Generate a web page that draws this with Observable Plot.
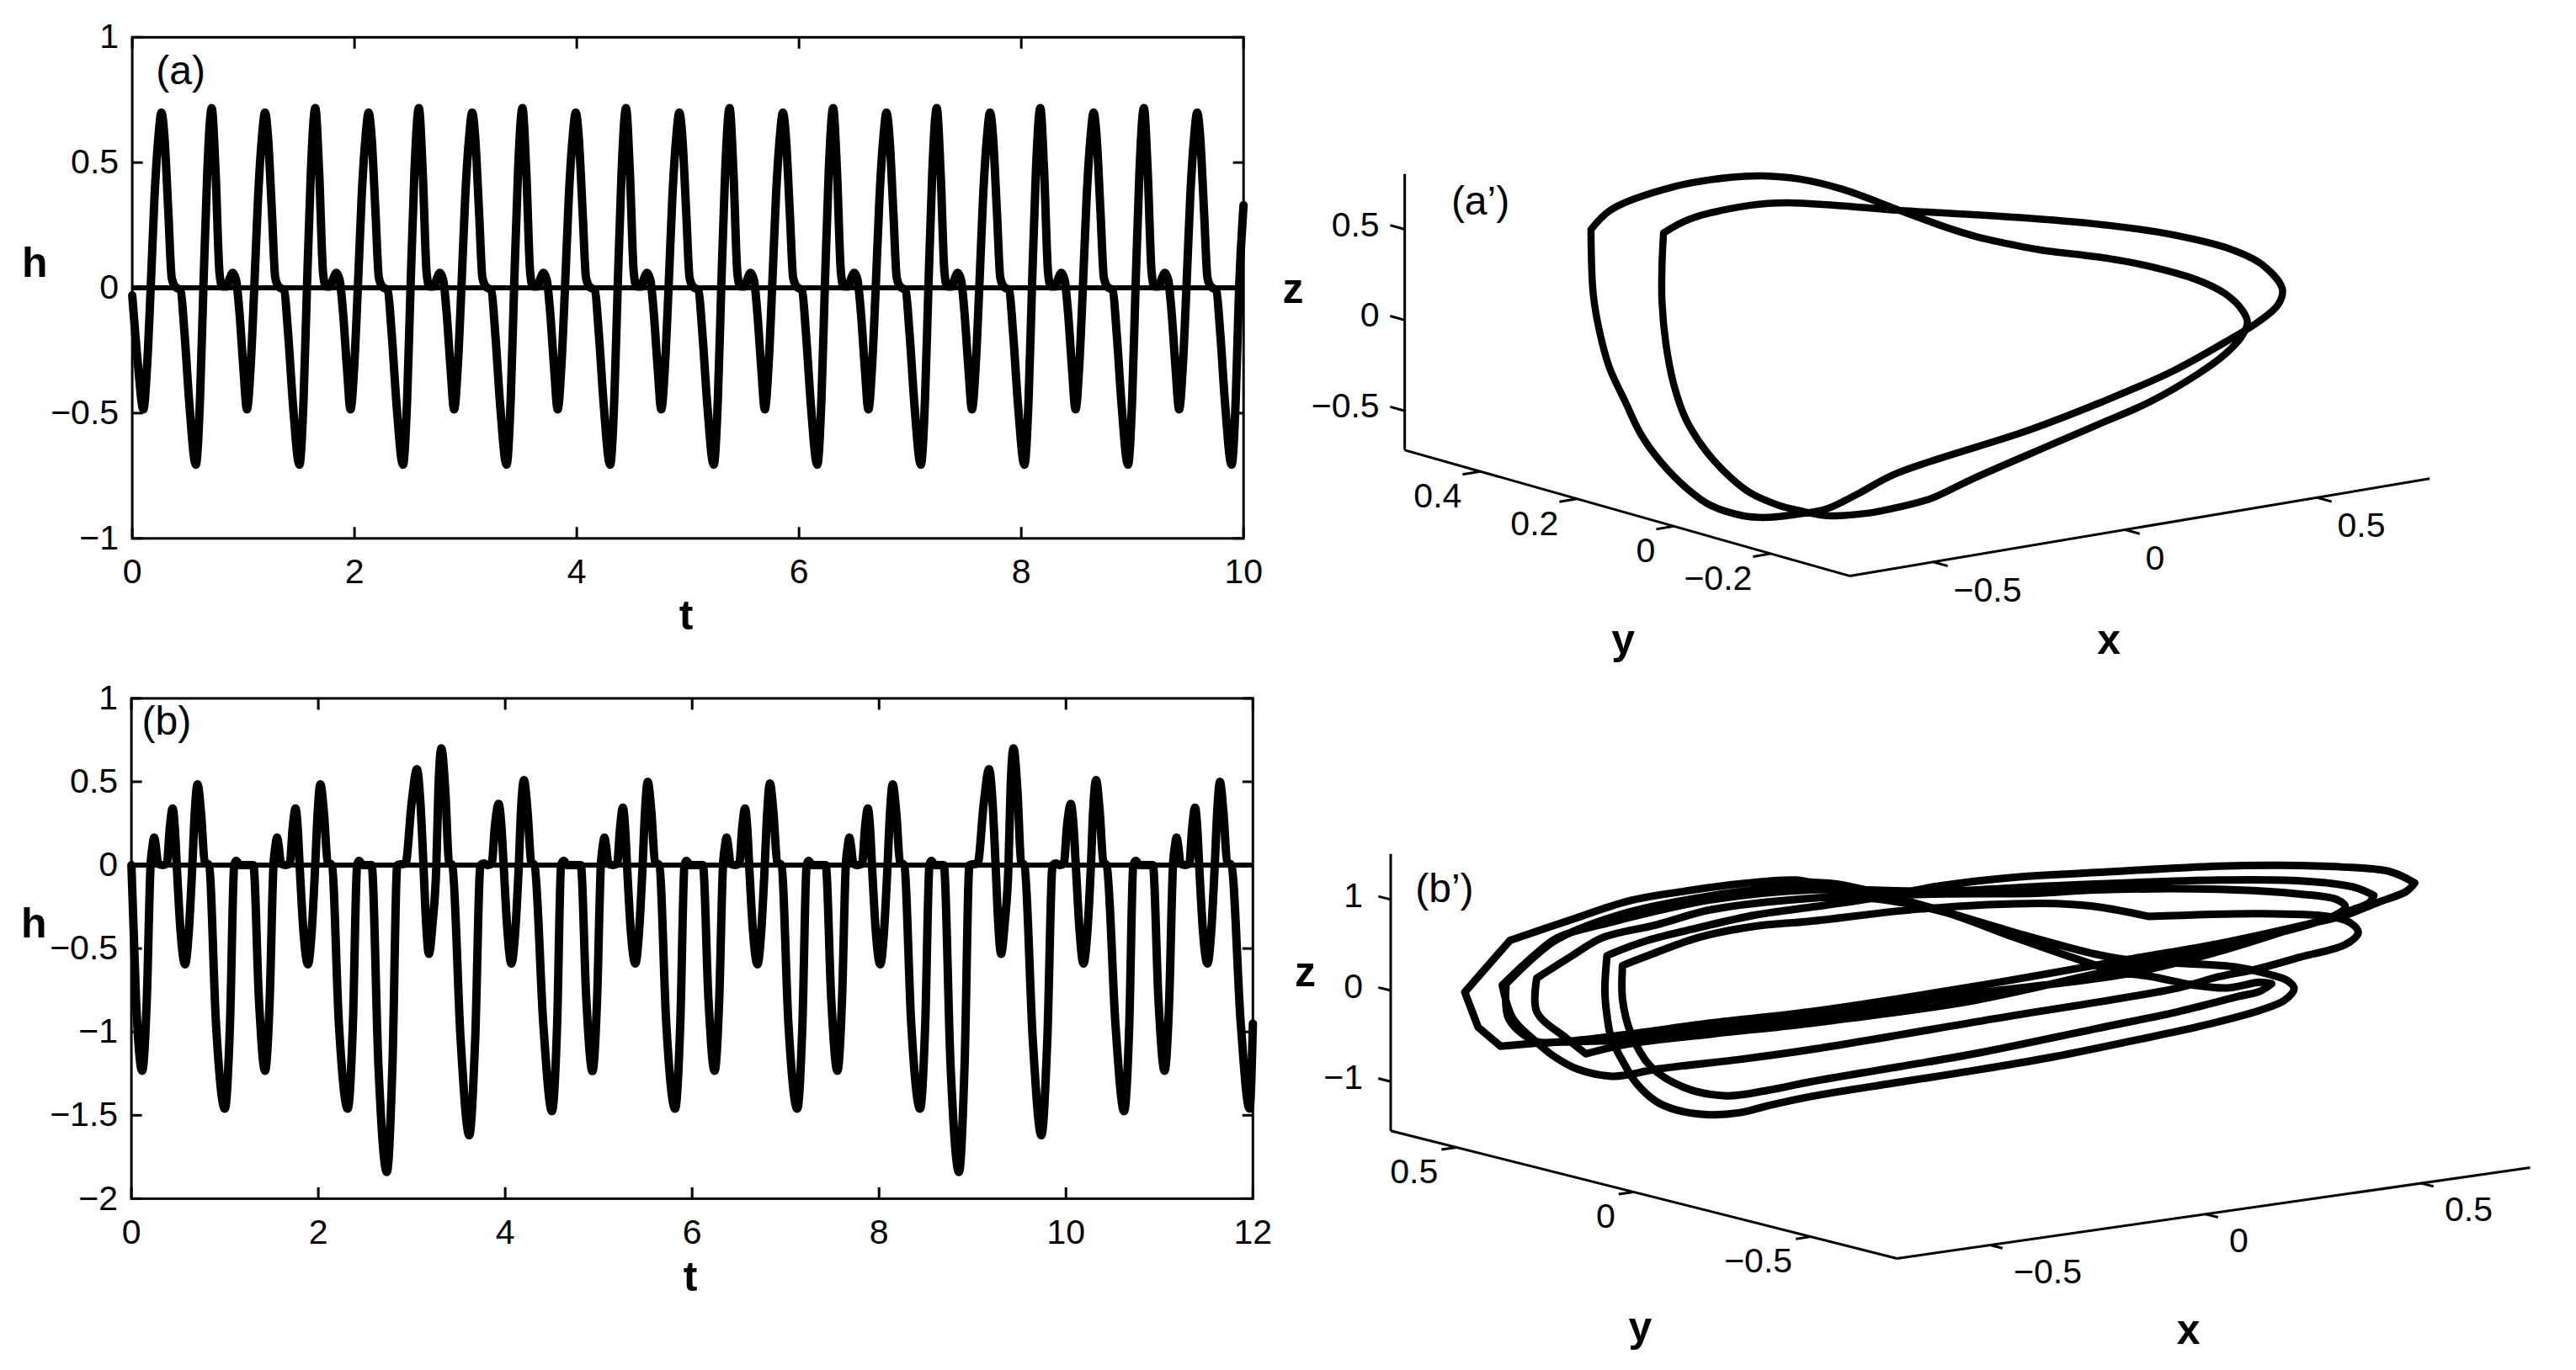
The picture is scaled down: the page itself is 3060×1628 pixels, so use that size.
<!DOCTYPE html>
<html>
<head>
<meta charset="utf-8">
<script src="https://cdn.jsdelivr.net/npm/d3@7"></script>
<script src="https://cdn.jsdelivr.net/npm/@observablehq/plot@0.6"></script>
<style>
  html, body { margin: 0; padding: 0; background: #fff; }
  #page { position: relative; width: 3060px; height: 1628px; overflow: hidden; background: #fff; }
  #page > svg { position: absolute; background: transparent; }
</style>
</head>
<body>
<div id="page"></div>
<script>
// ---------- panel (a): h(t) ----------
const tA = [
0,.05,
.10,.135,.166,.20,.235,.263,.29,.325,.355,.385,.435,.47,.515,.572,.61,.64,.675,.715,.75,.785,.81,.85,.875,.905,.935,.965,1.00,
1.032,1.067,1.098,1.132,1.167,1.195,1.222,1.257,1.287,1.317,1.367,1.402,1.447,1.504,1.542,1.572,1.607,1.647,1.682,1.717,1.742,1.782,1.807,1.837,1.867,1.897,1.932,
1.964,1.999,2.03,2.064,2.099,2.127,2.154,2.189,2.219,2.249,2.299,2.334,2.379,2.436,2.474,2.504,2.539,2.579,2.614,2.649,2.674,2.714,2.739,2.769,2.799,2.829,2.864,
2.896,2.931,2.962,2.996,3.031,3.059,3.086,3.121,3.151,3.181,3.231,3.266,3.311,3.368,3.406,3.436,3.471,3.511,3.546,3.581,3.606,3.646,3.671,3.701,3.731,3.761,3.796,
3.828,3.863,3.894,3.928,3.963,3.991,4.018,4.053,4.083,4.113,4.163,4.198,4.243,4.30,4.338,4.368,4.403,4.443,4.478,4.513,4.538,4.578,4.603,4.633,4.663,4.693,4.728,
4.76,4.795,4.826,4.86,4.895,4.923,4.95,4.985,5.015,5.045,5.095,5.13,5.175,5.232,5.27,5.30,5.335,5.375,5.41,5.445,5.47,5.51,5.535,5.565,5.595,5.625,5.66,
5.692,5.727,5.758,5.792,5.827,5.855,5.882,5.917,5.947,5.977,6.027,6.062,6.107,6.164,6.202,6.232,6.267,6.307,6.342,6.377,6.402,6.442,6.467,6.497,6.527,6.557,6.592,
6.624,6.659,6.69,6.724,6.759,6.787,6.814,6.849,6.879,6.909,6.959,6.994,7.039,7.096,7.134,7.164,7.199,7.239,7.274,7.309,7.334,7.374,7.399,7.429,7.459,7.489,7.524,
7.556,7.591,7.622,7.656,7.691,7.719,7.746,7.781,7.811,7.841,7.891,7.926,7.971,8.028,8.066,8.096,8.131,8.171,8.206,8.241,8.266,8.306,8.331,8.361,8.391,8.421,8.456,
8.488,8.523,8.554,8.588,8.623,8.651,8.678,8.713,8.743,8.773,8.823,8.858,8.903,8.96,8.998,9.028,9.063,9.103,9.138,9.173,9.198,9.238,9.263,9.293,9.323,9.353,9.388,
9.42,9.455,9.486,9.52,9.555,9.583,9.61,9.645,9.675,9.705,9.755,9.79,9.835,9.892,9.93,9.96,10
];
const hA = [
-.03,-.30,
-.485,-.30,0,.36,.60,.70,.60,.30,.04,.005,-.01,-.18,-.47,-.706,-.44,0,.46,.717,.46,.06,.005,.005,.035,.06,.03,-.10,-.32,
-.485,-.30,0,.36,.60,.70,.60,.30,.04,.005,-.01,-.18,-.47,-.706,-.44,0,.46,.717,.46,.06,.005,.005,.035,.06,.03,-.10,-.32,
-.485,-.30,0,.36,.60,.70,.60,.30,.04,.005,-.01,-.18,-.47,-.706,-.44,0,.46,.717,.46,.06,.005,.005,.035,.06,.03,-.10,-.32,
-.485,-.30,0,.36,.60,.70,.60,.30,.04,.005,-.01,-.18,-.47,-.706,-.44,0,.46,.717,.46,.06,.005,.005,.035,.06,.03,-.10,-.32,
-.485,-.30,0,.36,.60,.70,.60,.30,.04,.005,-.01,-.18,-.47,-.706,-.44,0,.46,.717,.46,.06,.005,.005,.035,.06,.03,-.10,-.32,
-.485,-.30,0,.36,.60,.70,.60,.30,.04,.005,-.01,-.18,-.47,-.706,-.44,0,.46,.717,.46,.06,.005,.005,.035,.06,.03,-.10,-.32,
-.485,-.30,0,.36,.60,.70,.60,.30,.04,.005,-.01,-.18,-.47,-.706,-.44,0,.46,.717,.46,.06,.005,.005,.035,.06,.03,-.10,-.32,
-.485,-.30,0,.36,.60,.70,.60,.30,.04,.005,-.01,-.18,-.47,-.706,-.44,0,.46,.717,.46,.06,.005,.005,.035,.06,.03,-.10,-.32,
-.485,-.30,0,.36,.60,.70,.60,.30,.04,.005,-.01,-.18,-.47,-.706,-.44,0,.46,.717,.46,.06,.005,.005,.035,.06,.03,-.10,-.32,
-.485,-.30,0,.36,.60,.70,.60,.30,.04,.005,-.01,-.18,-.47,-.706,-.44,0,.46,.717,.46,.06,.005,.005,.035,.06,.03,-.10,-.32,
-.485,-.30,0,.36,.60,.70,.60,.30,.04,.005,-.01,-.18,-.47,-.706,-.44,0,.33
];

// ---------- panel (b): h(t) ----------
const tB = [
0,.049,.115,.165,.205,.225,.243,.262,.285,.335,.38,.41,.441,.465,.485,.525,.574,.615,.652,.678,.707,.745,.785,.83,.905,1.0,1.055,1.10,1.12,1.16,
1.305,1.364,1.43,1.48,1.52,1.54,1.558,1.577,1.60,1.65,1.695,1.725,1.756,1.78,1.80,1.84,1.889,1.93,1.967,1.993,2.022,2.06,2.10,2.145,2.22,2.315,2.37,2.415,2.435,2.475,
2.57,2.643,2.733,2.793,2.845,2.933,2.998,3.055,3.093,3.125,3.153,3.183,3.223,3.263,3.285,3.316,3.358,3.398,3.433,3.523,3.615,3.678,3.735,3.773,3.813,3.855,3.89,3.93,3.958,3.983,4.023,4.065,4.108,4.145,4.169,4.2,4.238,4.278,4.313,4.408,4.5,4.555,4.598,4.626,4.663,
4.808,4.867,4.933,4.983,5.023,5.043,5.061,5.08,5.103,5.153,5.198,5.228,5.259,5.283,5.303,5.343,5.392,5.433,5.47,5.496,5.525,5.563,5.603,5.648,5.723,5.818,5.873,5.918,5.938,5.978,
6.115,6.174,6.24,6.29,6.33,6.35,6.368,6.387,6.41,6.46,6.505,6.535,6.566,6.59,6.61,6.65,6.699,6.74,6.777,6.803,6.832,6.87,6.91,6.955,7.03,7.125,7.18,7.225,7.245,7.285,
7.429,7.488,7.554,7.604,7.644,7.664,7.682,7.701,7.724,7.774,7.819,7.849,7.88,7.904,7.924,7.964,8.013,8.054,8.091,8.117,8.146,8.184,8.224,8.269,8.344,8.439,8.494,8.539,8.559,8.599,
8.692,8.765,8.855,8.915,8.967,9.055,9.12,9.177,9.215,9.247,9.275,9.305,9.345,9.385,9.407,9.438,9.48,9.52,9.555,9.645,9.737,9.80,9.857,9.895,9.935,9.977,10.012,10.052,10.08,10.105,10.145,10.187,10.23,10.267,10.291,10.322,10.36,10.40,10.435,10.53,10.622,10.677,10.72,10.748,10.785,
10.93,10.989,11.055,11.105,11.145,11.165,11.183,11.202,11.225,11.275,11.32,11.35,11.381,11.405,11.425,11.465,11.514,11.555,11.592,11.618,11.647,11.685,11.725,11.77,11.87,11.965,12
];
const hB = [
0,-.80,-1.233,-.80,0,.11,.166,.11,.01,0,.01,.22,.34,.22,0,-.39,-.595,-.39,0,.315,.485,.315,.02,0,-.95,-1.46,-.95,0,.025,0,
0,-.80,-1.233,-.80,0,.11,.166,.11,.01,0,.01,.22,.34,.22,0,-.39,-.595,-.39,0,.315,.485,.315,.02,0,-.95,-1.46,-.95,0,.025,0,
0,-1.2,-1.84,-1.2,0,.01,.37,.575,.37,0,-.345,-.532,-.345,0,.455,.7,.455,.02,0,-1.05,-1.62,-1.05,0,.01,0,.01,.24,.367,.24,0,-.39,-.59,-.39,0,.33,.51,.33,.02,0,-.96,-1.475,-.96,0,.025,0,
0,-.80,-1.235,-.80,0,.11,.166,.11,.01,0,.01,.22,.345,.22,0,-.39,-.59,-.39,0,.325,.5,.325,.02,0,-.95,-1.46,-.95,0,.025,0,
0,-.80,-1.233,-.80,0,.11,.166,.11,.01,0,.01,.22,.34,.22,0,-.39,-.595,-.39,0,.315,.49,.315,.02,0,-.95,-1.46,-.95,0,.025,0,
0,-.80,-1.233,-.80,0,.11,.166,.11,.01,0,.01,.22,.34,.22,0,-.39,-.595,-.39,0,.315,.485,.315,.02,0,-.95,-1.46,-.95,0,.025,0,
0,-1.2,-1.84,-1.2,0,.01,.37,.575,.37,0,-.345,-.532,-.345,0,.455,.7,.455,.02,0,-1.05,-1.62,-1.05,0,.01,0,.01,.24,.367,.24,0,-.39,-.59,-.39,0,.33,.51,.33,.02,0,-.96,-1.475,-.96,0,.025,0,
0,-.80,-1.233,-.80,0,.11,.166,.11,.01,0,.01,.22,.345,.22,0,-.39,-.59,-.39,0,.315,.5,.315,.02,0,-.95,-1.46,-.95
];

const tTicksA = [0,2,4,6,8,10];
const hTicksA = [-1,-.5,0,.5,1];
const tTicksB = [0,2,4,6,8,10,12];
const hTicksB = [-2,-1.5,-1,-.5,0,.5,1];

// ---------- panel (a'): loop as seen in the plot's projection plane
// (across: x-axis units; up: z-axis units) ; a repeated vertex is a corner of the curve ----------
const uA3 = [-.934,-.881,-.718,-.571,-.487,-.392,-.277,-.13,-.004,.069,.164,.237,.416,.52,.646,.72,.762,.776,.762,.72,.646,.52,.395,.269,.059,-.046,-.13,-.214,-.319,-.392,-.445,-.518,-.571,-.634,-.686,-.718,-.739,-.749,-.749,-.745,-.745,-.676,-.518,-.424,-.298,-.13,.206,.416,.583,.73,.814,.867,.856,.804,.73,.583,.395,.206,-.141,-.235,-.319,-.392,-.476,-.539,-.623,-.686,-.749,-.802,-.844,-.886,-.911,-.928,-.934];
const vA3 = [.663,.773,.899,.951,.959,.942,.884,.769,.672,.625,.58,.551,.503,.461,.385,.307,.221,.154,.077,-.019,-.134,-.288,-.403,-.518,-.711,-.816,-.864,-.899,-.912,-.884,-.855,-.788,-.701,-.557,-.384,-.192,.038,.269,.461,.644,.644,.721,.797,.811,.797,.769,.726,.686,.634,.557,.471,.336,.25,.154,.058,-.115,-.288,-.442,-.682,-.788,-.874,-.903,-.922,-.912,-.855,-.759,-.624,-.471,-.288,-.096,.096,.307,.663];

// ---------- panel (b'): laps in the same kind of projection plane ----------
const uB3 = [
-1.108,-1.003,-1.003,-.859,-.729,-.599,-.469,-.339,-.306,-.249,-.183,-.022,.168,.357,.433,.603,.679,.759,.802,.816,.793,.736,.594,.452,.262,.073,-.116,-.306,-.404,-.469,-.547,-.618,-.664,-.71,-.742,-.768,-.778,-.783,-.778,-.778,
-.768,-.684,-.566,-.436,-.306,-.164,-.003,.168,.357,.641,.783,.925,1.039,1.096,1.096,1.077,1.01,.935,.849,.641,.442,.073,-.306,-.534,-.729,-.872,-.944,-1.006,-1.012,-1.012,
-.944,-.892,-.729,-.534,-.404,-.306,-.211,-.116,.007,.168,.338,.414,.48,.584,.66,.736,.764,.764,.736,.688,.546,.357,.073,-.116,-.306,-.404,-.501,-.599,-.677,-.723,-.742,-.742,-.742,
-.684,-.566,-.436,-.306,-.05,.234,.348,.48,.48,.736,.897,.944,.965,.935,.83,.731,.641,.546,.12,-.306,-.469,-.664,-.729,-.768,-.846,-.905,-.944,-.996,-1.021,-1.021,
-.944,-.892,-.768,-.534,-.306,-.003,.262,.641,.83,.954,1.001,1.001,.991,.944,.849,.641,.433,.073,-.306,-.534,-.729,-.827,-.827,-.872,-.941,-.941,-.941,
-.859,-.788,-.664,-.534,-.306,-.022,.215,.357,.641,.83,.916,.935,.906,.83,.641,.433,.073,-.306,-.534,-.729,-.924,-1.025,-1.025,-1.077,-1.077,-1.108
];
const vB3 = [
.169,.738,.738,.969,1.169,1.277,1.36,1.4,1.378,1.36,1.298,1.092,.825,.585,.523,.474,.446,.363,.292,.209,.077,-.031,-.209,-.354,-.538,-.692,-.831,-.978,-1.077,-1.154,-1.175,-1.123,-1.031,-.831,-.585,-.338,-.092,.185,.569,.569,
.591,.738,.877,1.015,1.102,1.2,1.338,1.431,1.483,1.554,1.563,1.545,1.492,1.369,1.369,1.277,1.154,1.015,.917,.702,.538,.231,-.046,-.169,-.292,-.369,-.369,-.123,.262,.262,
.569,.754,1.046,1.231,1.308,1.348,1.231,1.169,1.046,.769,.492,.385,.345,.246,.215,.277,.262,.262,.178,.123,-.046,-.231,-.508,-.662,-.815,-.908,-.969,-.877,-.646,-.277,.092,.462,.462,
.569,.769,.892,.948,1.083,1.145,1.114,1,1,1.031,1,.938,.825,.692,.554,.425,.338,.215,-.123,-.462,-.569,-.677,-.738,-.754,-.677,-.523,-.369,-.123,.246,.246,
.585,.769,.938,1.185,1.292,1.277,1.338,1.4,1.391,1.323,1.231,1.231,1.154,1.062,.908,.662,.455,.077,-.172,-.29,-.40,-.508,-.508,-.338,-.046,.323,.323,
.569,.769,.908,1.077,1.2,1.246,1.255,1.292,1.298,1.246,1.185,1.108,1,.892,.615,.375,.154,-.108,-.231,-.35,-.385,-.425,-.425,-.215,-.215,.169
];

const xTicksA3 = [-.5,0,.5], yTicksA3 = [-.2,0,.2,.4], zTicksA3 = [-.5,0,.5];
const xTicksB3 = [-.5,0,.5], yTicksB3 = [-.5,0,.5],    zTicksB3 = [-1,0,1];

const font = "Liberation Sans";
const tickFont = 41, labelFont = 50, panelFont = 48;
const ink = "#000";

function mount(plot, left, top) {
  plot.style.left = left + "px";
  plot.style.top = top + "px";
  document.getElementById("page").appendChild(plot);
}

function series(t, h, tDomain, hDomain, tTicks, hTicks, size, name, nameAt) {
  return Plot.plot({
    width: size.width, height: size.height,
    marginLeft: size.left, marginRight: size.right, marginTop: size.top, marginBottom: size.bottom,
    style: {fontFamily: font, background: "transparent", overflow: "visible"},
    x: {domain: tDomain, label: null},
    y: {domain: hDomain, label: null},
    marks: [
      Plot.ruleY([0], {stroke: ink, strokeWidth: 6}),
      Plot.line(t, {x: t, y: h, curve: "monotone-x", stroke: ink, strokeWidth: 10, strokeLinejoin: "round"}),
      Plot.frame({stroke: ink, strokeWidth: 3}),
      Plot.axisX({anchor: "bottom", ticks: tTicks, tickSize: -13, tickFormat: () => "", strokeWidth: 3}),
      Plot.axisX({anchor: "top", ticks: tTicks, tickSize: -13, tickFormat: () => "", strokeWidth: 3}),
      Plot.axisY({anchor: "left", ticks: hTicks, tickSize: -13, tickFormat: () => "", strokeWidth: 3}),
      Plot.axisY({anchor: "right", ticks: hTicks, tickSize: -13, tickFormat: () => "", strokeWidth: 3}),
      Plot.axisX({anchor: "bottom", ticks: tTicks, tickSize: 0, tickPadding: 24, fontSize: tickFont, label: null, fill: ink}),
      Plot.axisY({anchor: "left", ticks: hTicks, tickSize: 0, tickPadding: 16, fontSize: tickFont, label: null, fill: ink, tickFormat: d3.format("~g")}),
      Plot.text(["h"], {frameAnchor: "left", text: d => d, dx: -131, dy: -29, fontSize: labelFont, fontWeight: "bold", fill: ink}),
      Plot.text(["t"], {frameAnchor: "bottom", text: d => d, dx: -2, dy: size.tDy, fontSize: labelFont, fontWeight: "bold", fill: ink}),
      Plot.text([name], {x: nameAt[0], y: nameAt[1], text: d => d, fontSize: panelFont, fill: ink})
    ]
  });
}

function box3d(curveU, curveV, strokeW, cfg) {
  const P = (x, y, z) => [x + y * cfg.yAcross, x * cfg.xUp + y * cfg.yUp + z];
  const {xMin, xMax, yMin, yMax, zMin, zMax} = cfg;
  const axisLines = [
    [P(xMin, yMax, zMax), P(xMin, yMax, zMin)],
    [P(xMin, yMax, zMin), P(xMin, yMin, zMin)],
    [P(xMin, yMin, zMin), P(xMax, yMin, zMin)]
  ];
  const xT = cfg.xTicks.map(v => ({label: v, a: P(v, yMin, zMin), b: P(v, yMin - cfg.tickY, zMin)}));
  const yT = cfg.yTicks.map(v => ({label: v, a: P(xMin, v, zMin), b: P(xMin - cfg.tickX, v, zMin)}));
  const zT = cfg.zTicks.map(v => ({label: v, a: P(xMin, yMax, v), b: P(xMin, yMax + cfg.tickZ, v)}));
  const allT = [...xT, ...yT, ...zT];
  const fmt = d3.format("~g");
  const tick = (arr, o) => Plot.text(arr, {x: d => d.a[0], y: d => d.a[1], text: d => fmt(d.label), fontSize: tickFont, fill: ink, ...o});
  const name = (s, uv, o) => Plot.text([s], {x: uv[0], y: uv[1], text: d => d, fill: ink, ...o});
  return Plot.plot({
    width: cfg.width, height: cfg.height,
    marginLeft: 0, marginRight: 0, marginTop: 0, marginBottom: 0,
    style: {fontFamily: font, background: "transparent", overflow: "visible"},
    x: {domain: cfg.uDomain, axis: null},
    y: {domain: cfg.vDomain, axis: null},
    marks: [
      Plot.link(axisLines, {x1: d => d[0][0], y1: d => d[0][1], x2: d => d[1][0], y2: d => d[1][1], stroke: ink, strokeWidth: 3}),
      Plot.link(allT, {x1: d => d.a[0], y1: d => d.a[1], x2: d => d.b[0], y2: d => d.b[1], stroke: ink, strokeWidth: 3}),
      Plot.line(curveU, {x: curveU, y: curveV, curve: "catmull-rom", stroke: ink, strokeWidth: strokeW, strokeLinejoin: "round"}),
      tick(xT, {textAnchor: "start", dx: cfg.xLab[0], dy: cfg.xLab[1]}),
      tick(yT, {textAnchor: "end", dx: cfg.yLab[0], dy: cfg.yLab[1]}),
      tick(zT, {textAnchor: "end", dx: cfg.zLab[0], dy: cfg.zLab[1]}),
      name("x", cfg.xName, {fontSize: labelFont, fontWeight: "bold"}),
      name("y", cfg.yName, {fontSize: labelFont, fontWeight: "bold"}),
      name("z", cfg.zName, {fontSize: labelFont, fontWeight: "bold"}),
      name(cfg.title, cfg.titleAt, {fontSize: panelFont})
    ]
  });
}

mount(series(tA, hA, [0,10], [-1,1], tTicksA, hTicksA,
  {width: 1520, height: 780, left: 156.6, right: 43.3, top: 43.8, bottom: 140.7, tDy: 108},
  "(a)", [.435,.863]), 0, 0);

mount(series(tB, hB, [0,12], [-2,1], tTicksB, hTicksB,
  {width: 1520, height: 790, left: 155.6, right: 32.2, top: 39.4, bottom: 156.1, tDy: 110},
  "(b)", [.376,.861]), 0, 790);

mount(box3d(uA3, vA3, 8.5, {
  width: 1540, height: 640,
  uDomain: [-1.744,1.6331], vDomain: [-1.7822,1.1835],
  yAcross: -1.261, xUp: .3545, yUp: .754,
  xMin: -.718, xMax: .793, yMin: -.363, yMax: .556, zMin: -.716, zMax: .805,
  xTicks: xTicksA3, yTicks: yTicksA3, zTicks: zTicksA3,
  tickX: .046, tickY: .03, tickZ: .03,
  xLab: [24,34], yLab: [-22,30], zLab: [-30,-5],
  xName: [.415,-1.6], yName: [-.85,-1.6], zName: [-1.71,.335],
  title: "(a’)", titleAt: [-1.222,.815]
}), 1520, 160);

mount(box3d(uB3, vB3, 9, {
  width: 1540, height: 648,
  uDomain: [-1.5367,1.4711], vDomain: [-3.9852,2.0037],
  yAcross: -.822, xUp: .679, yUp: .9815,
  xMin: -.716, xMax: .753, yMin: -.743, yMax: .686, zMin: -1.54, zMax: 1.50,
  xTicks: xTicksB3, yTicks: yTicksB3, zTicks: zTicksB3,
  tickX: .035, tickY: .035, tickZ: .035,
  xLab: [28,32], yLab: [-22,29], zLab: [-33,-4],
  xName: [.571,-3.55], yName: [-.701,-3.52], zName: [-1.478,.38],
  title: "(b’)", titleAt: [-1.155,1.30]
}), 1520, 980);
</script>
</body>
</html>
